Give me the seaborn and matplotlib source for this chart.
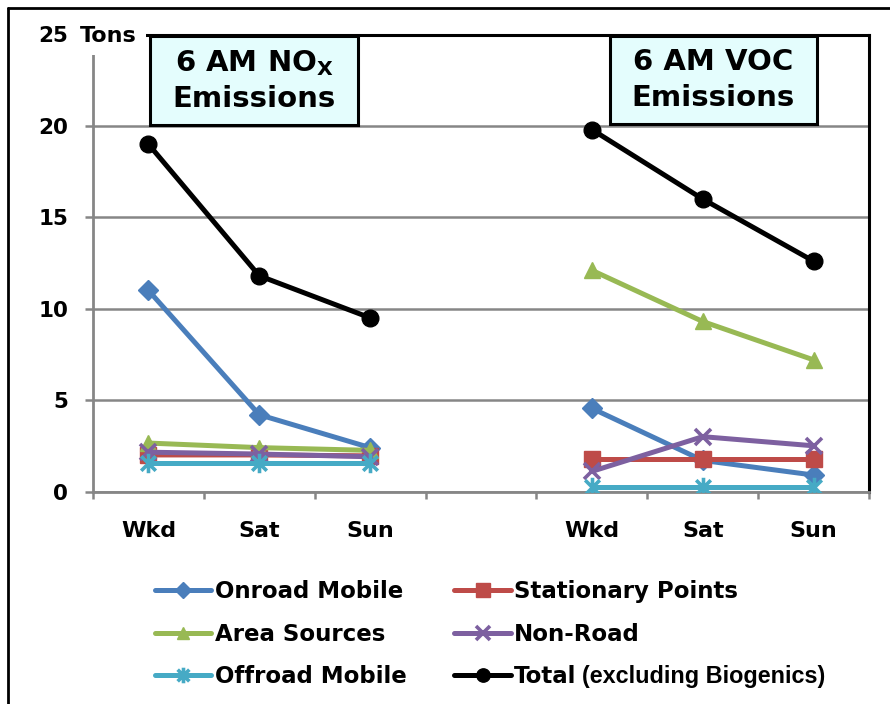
import numpy as np
import pandas as pd
import matplotlib
matplotlib.use("Agg")
import matplotlib.pyplot as plt
from matplotlib.lines import Line2D
from matplotlib.patches import Rectangle
from matplotlib.path import Path
import seaborn as sns

# ---- data (tons at 6 AM) ----
days = ["Wkd", "Sat", "Sun"]
sources = ["Onroad Mobile", "Stationary Points", "Area Sources",
           "Non-Road", "Offroad Mobile", "Total"]

nox_onroad = [11.0, 4.2, 2.4]
nox_stationary = [2.0, 2.0, 1.95]
nox_area = [2.65, 2.4, 2.25]
nox_nonroad = [2.15, 2.05, 1.9]
nox_offroad = [1.55, 1.55, 1.55]
nox_total = [19.0, 11.8, 9.5]

voc_onroad = [4.55, 1.7, 0.9]
voc_stationary = [1.77, 1.77, 1.77]
voc_area = [12.1, 9.3, 7.2]
voc_nonroad = [1.1, 3.0, 2.5]
voc_offroad = [0.25, 0.25, 0.25]
voc_total = [19.8, 16.0, 12.6]

y_ticks = [0, 5, 10, 15, 20, 25]

nox_series = [nox_onroad, nox_stationary, nox_area, nox_nonroad, nox_offroad, nox_total]
voc_series = [voc_onroad, voc_stationary, voc_area, voc_nonroad, voc_offroad, voc_total]

# long-form table: NOx days sit in slots 0-2, VOC days in slots 4-6
rows = []
for panel, series, offset in (("NOx", nox_series, 0), ("VOC", voc_series, 4)):
    for src, vals in zip(sources, series):
        for i, (d, v) in enumerate(zip(days, vals)):
            rows.append({"panel": panel, "source": src, "day": d,
                         "pos": offset + i, "tons": v})
df = pd.DataFrame(rows)

# ---- styling ----
sns.set_style("white")
plt.rcParams["font.family"] = ["DejaVu Sans"]
plt.rcParams["text.color"] = "black"
plt.rcParams["xtick.labelcolor"] = "black"
plt.rcParams["ytick.labelcolor"] = "black"
plt.rcParams["mathtext.default"] = "regular"

colors = {
    "Onroad Mobile": "#4A7EBB",
    "Stationary Points": "#BE4B48",
    "Area Sources": "#98B954",
    "Non-Road": "#7D60A0",
    "Offroad Mobile": "#46AAC5",
    "Total": "#000000",
}
star = Path([(0, -1), (0, 1), (-0.75, -0.75), (0.75, 0.75), (-0.75, 0.75), (0.75, -0.75)],
            [Path.MOVETO, Path.LINETO, Path.MOVETO, Path.LINETO, Path.MOVETO, Path.LINETO])
markers = {
    "Onroad Mobile": ("D", 10, 1.0),
    "Stationary Points": ("s", 12, 1.0),
    "Area Sources": ("^", 11, 1.0),
    "Non-Road": ("x", 12, 2.6),
    "Offroad Mobile": (star, 14, 2.6),
    "Total": ("o", 12, 1.0),
}

W, H = 890, 704
fig = plt.figure(figsize=(W / 100, H / 100), dpi=100)
ax = fig.add_axes([93 / W, 1 - 491.5 / H, (869 - 93) / W, (491.5 - 34.5) / H])

for src in sources:
    m, ms, mew = markers[src]
    sns.lineplot(data=df[df["source"] == src], x="pos", y="tons", units="panel",
                 estimator=None, sort=False, ax=ax, color=colors[src],
                 linewidth=3.6, marker=m, markersize=ms,
                 markeredgecolor=colors[src], markeredgewidth=mew,
                 solid_capstyle="round", legend=False, zorder=3)

ax.set_xlim(-0.5, 6.5)
ax.set_ylim(0, 25)
ax.set_xlabel("")
ax.set_ylabel("")

grey = "#868686"
ax.set_yticks(y_ticks)
ax.set_yticklabels([str(t) for t in y_ticks], fontsize=15.5, fontweight="bold")
ax.yaxis.grid(True, color=grey, linewidth=1.8)
ax.xaxis.grid(False)
ax.set_axisbelow(True)

ax.set_xticks(np.arange(-0.5, 7, 1))
ax.set_xticklabels([""] * 8)
ax.set_xticks([0, 1, 2, 4, 5, 6], minor=True)
ax.set_xticklabels(days + days, minor=True, fontsize=16, fontweight="bold")
ax.tick_params(axis="x", which="major", direction="out", length=5, width=1.8,
               color=grey, bottom=True)
ax.tick_params(axis="x", which="minor", length=0, pad=21)
ax.tick_params(axis="y", direction="out", length=6, width=1.8, color=grey,
               pad=12, left=True)

for side in ("left", "bottom"):
    ax.spines[side].set_color(grey)
    ax.spines[side].set_linewidth(2.0)
for side in ("top", "right"):
    ax.spines[side].set_color("black")
    ax.spines[side].set_linewidth(2.2)

# unit label next to the top tick
ax.annotate("Tons", xy=(0, 25), xycoords=("axes fraction", "data"),
            xytext=(-13, 0), textcoords="offset pixels", ha="left", va="center_baseline",
            fontsize=16, fontweight="bold", zorder=10,
            bbox=dict(boxstyle="square,pad=0.4", facecolor="white", edgecolor="none"))

# panel title boxes
def title_box(x0, y0, x1, y1, text):
    fig.add_artist(Rectangle((x0 / W, 1 - y1 / H), (x1 - x0) / W, (y1 - y0) / H,
                             transform=fig.transFigure, facecolor="#E4FDFD",
                             edgecolor="black", linewidth=2.2, zorder=5))
    fig.text((x0 + x1) / 2 / W, 1 - (y0 + y1) / 2 / H, text, ha="center", va="center",
             fontsize=21, fontweight="bold", linespacing=1.35, zorder=6)

title_box(150, 36, 358, 125, "6 AM NO$_{X}$\nEmissions")
title_box(610, 36, 817, 124, "6 AM VOC\nEmissions")

# legend: filled column-wise, so order the handles accordingly
order = ["Onroad Mobile", "Area Sources", "Offroad Mobile",
         "Stationary Points", "Non-Road", "Total"]
handles = []
for src in order:
    m, ms, mew = markers[src]
    handles.append(Line2D([], [], color=colors[src], linewidth=3.6, marker=m,
                          markersize=ms * 0.8, markeredgecolor=colors[src],
                          markeredgewidth=mew, solid_capstyle="round"))
leg = fig.legend(handles, order, loc="upper left",
                 bbox_to_anchor=(155 / W, 1 - 580 / H), ncol=2, frameon=False,
                 borderpad=0, borderaxespad=0, handlelength=2.45, handletextpad=0.15,
                 labelspacing=0.86, columnspacing=2.1,
                 prop={"size": 16.5, "weight": "bold"})

# trailing qualifier after "Total"
fig.canvas.draw()
renderer = fig.canvas.get_renderer()
total_txt = leg.get_texts()[-1]
bb = total_txt.get_window_extent(renderer)
fig.text((bb.x1 + 6) / W, (bb.y0 + bb.y1) / 2 / H, "(excluding Biogenics)",
         ha="left", va="center", fontsize=16.8, fontweight="bold",
         family="Liberation Sans")

# outer frame
fig.add_artist(Line2D([8 / W, 8 / W], [0, 1 - 8 / H], transform=fig.transFigure,
                      color="black", linewidth=2.0))
fig.add_artist(Line2D([8 / W, 1], [1 - 8 / H, 1 - 8 / H], transform=fig.transFigure,
                      color="black", linewidth=2.0))

fig.savefig("out.png", dpi=100)
